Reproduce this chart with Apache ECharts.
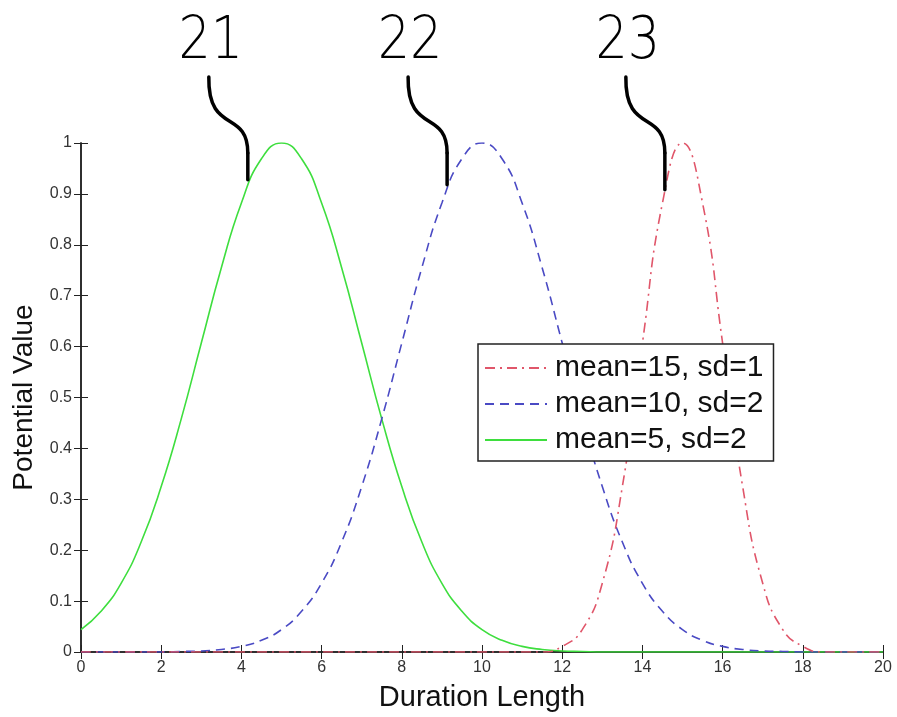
<!DOCTYPE html>
<html>
<head>
<meta charset="utf-8">
<script src="https://cdn.jsdelivr.net/npm/echarts@6/dist/echarts.min.js"></script>
<style>
  html, body { margin: 0; padding: 0; background: #fff; }
  #chart { width: 897px; height: 717px; }
</style>
</head>
<body>
<div id="chart"></div>
<script>
// x positions (Duration Length)
var xs = [0, 0.5, 1, 1.5, 2, 2.5, 3, 3.5, 4, 4.5, 5, 5.5, 6, 6.5, 7, 7.5, 8, 8.5, 9, 9.5,
          10, 10.5, 11, 11.5, 12, 12.5, 13, 13.5, 14, 14.5, 15, 15.5, 16, 16.5, 17, 17.5, 18, 18.5, 19, 19.5, 20];

// mean=15, sd=1
var redVals = [0, 0, 0, 0, 0, 0, 0, 0, 0, 0, 0, 0, 0, 0, 0, 0, 0, 0, 0, 0,
               0, 0, 0, 0, 0.011, 0.044, 0.135, 0.325, 0.607, 0.882, 1, 0.882, 0.607, 0.325, 0.135, 0.044, 0.011, 0, 0, 0, 0];
// mean=10, sd=2
var blueVals = [0, 0, 0, 0, 0, 0.001, 0.002, 0.005, 0.011, 0.023, 0.044, 0.080, 0.135, 0.216, 0.325, 0.458, 0.607, 0.755, 0.882, 0.969,
                1, 0.969, 0.882, 0.755, 0.607, 0.458, 0.325, 0.216, 0.135, 0.080, 0.044, 0.023, 0.011, 0.005, 0.002, 0.001, 0, 0, 0, 0, 0];
// mean=5, sd=2
var greenVals = [0.044, 0.080, 0.135, 0.216, 0.325, 0.458, 0.607, 0.755, 0.882, 0.969, 1, 0.969, 0.882, 0.755, 0.607, 0.458, 0.325, 0.216, 0.135, 0.080,
                 0.044, 0.023, 0.011, 0.005, 0.002, 0.001, 0, 0, 0, 0, 0, 0, 0, 0, 0, 0, 0, 0, 0, 0, 0];

var seriesNames = ['mean=15, sd=1', 'mean=10, sd=2', 'mean=5, sd=2'];

// callout labels and the point where each leader touches its curve
var calloutText = ['21', '22', '23'];
var calloutX = [4.16, 9.13, 14.56];
var calloutY = [0.928, 0.918, 0.908];

var pairs = function (vals) {
    return xs.map(function (x, i) { return [x, vals[i]]; });
};

var font = '"Liberation Sans", Arial, sans-serif';
var tickLabel = { color: '#333', fontSize: 16, fontFamily: font };
var axisLine = { show: true, lineStyle: { color: '#222', width: 1.5 } };
var tick = { inside: true, length: 7, lineStyle: { color: '#222' } };

var chart = echarts.init(document.getElementById('chart'));

var option = {
    backgroundColor: '#fff',
    animation: false,
    grid: { left: 81, right: 14, top: 143, bottom: 63 },
    legend: {
        orient: 'vertical',
        left: 478,
        top: 344,
        padding: [9, 10, 6, 6],
        itemGap: 6,
        itemWidth: 62,
        itemHeight: 14,
        borderColor: '#222',
        borderWidth: 1.5,
        backgroundColor: '#fff',
        itemStyle: { opacity: 0 },
        data: seriesNames,
        textStyle: { color: '#111', fontSize: 30, fontFamily: font, padding: [0, 0, 0, 3] }
    },
    xAxis: [{
        type: 'value', min: 0, max: 20, interval: 2,
        name: 'Duration Length', nameLocation: 'middle', nameGap: 31,
        nameTextStyle: { color: '#111', fontSize: 29, fontFamily: font },
        axisLine: axisLine,
        axisTick: tick,
        axisLabel: Object.assign({ margin: 8 }, tickLabel),
        splitLine: { show: false }
    }, {
        type: 'value', min: 0, max: 20, interval: 2, position: 'top',
        axisLine: axisLine,
        axisTick: tick,
        axisLabel: { show: false },
        splitLine: { show: false }
    }],
    yAxis: [{
        type: 'value', min: 0, max: 1, interval: 0.1,
        name: 'Potential Value', nameLocation: 'middle', nameGap: 43,
        nameTextStyle: { color: '#111', fontSize: 28, fontFamily: font },
        axisLine: axisLine,
        axisTick: tick,
        axisLabel: Object.assign({ margin: 9, formatter: function (v) { return +v.toFixed(1) + ''; } }, tickLabel),
        splitLine: { show: false }
    }, {
        type: 'value', min: 0, max: 1, interval: 0.1, position: 'right',
        axisLine: axisLine,
        axisTick: tick,
        axisLabel: { show: false },
        splitLine: { show: false }
    }],
    series: [{
        name: seriesNames[0], type: 'line', symbol: 'none', smooth: 0.5, z: 3,
        lineStyle: { color: '#e0566a', width: 1.6, type: [10, 5, 2, 5] },
        itemStyle: { color: '#e0566a' },
        data: pairs(redVals)
    }, {
        name: seriesNames[1], type: 'line', symbol: 'none', smooth: 0.5, z: 2,
        lineStyle: { color: '#4a4ac4', width: 1.6, type: [9, 6] },
        itemStyle: { color: '#4a4ac4' },
        data: pairs(blueVals)
    }, {
        name: seriesNames[2], type: 'line', symbol: 'none', smooth: 0.5, z: 1,
        lineStyle: { color: '#3ede3e', width: 1.6 },
        itemStyle: { color: '#3ede3e' },
        data: pairs(greenVals)
    }]
};
chart.setOption(option);

// callout numbers with hand-drawn leader lines, ending on the curves
var graphics = [];
var leaderStyle = { fill: null, stroke: '#000', lineWidth: 3.5, lineCap: 'round' };
var gridTop = chart.convertToPixel({ gridIndex: 0 }, [0, 1])[1];
calloutText.forEach(function (t, i) {
    var p = chart.convertToPixel({ gridIndex: 0 }, [calloutX[i], calloutY[i]]);
    var ex = p[0], ey = p[1];
    var sx = ex - 39, sy = gridTop - 66;
    graphics.push({
        type: 'bezierCurve', z: 10,
        shape: { x1: sx, y1: sy, cpx1: sx - 1, cpy1: sy + 58, cpx2: ex, cpy2: sy + 32, x2: ex, y2: sy + 76 },
        style: leaderStyle
    });
    graphics.push({
        type: 'line', z: 10,
        shape: { x1: ex, y1: sy + 76, x2: ex, y2: ey },
        style: leaderStyle
    });
    graphics.push({
        type: 'text', x: sx + 2, y: gridTop - 100, z: 10, scaleX: 0.86,
        style: {
            text: t, fill: '#000', fontSize: 59, fontFamily: '"DejaVu Sans", sans-serif', fontWeight: 200,
            textAlign: 'center', textVerticalAlign: 'middle'
        }
    });
});
chart.setOption({ graphic: graphics });
</script>
</body>
</html>
